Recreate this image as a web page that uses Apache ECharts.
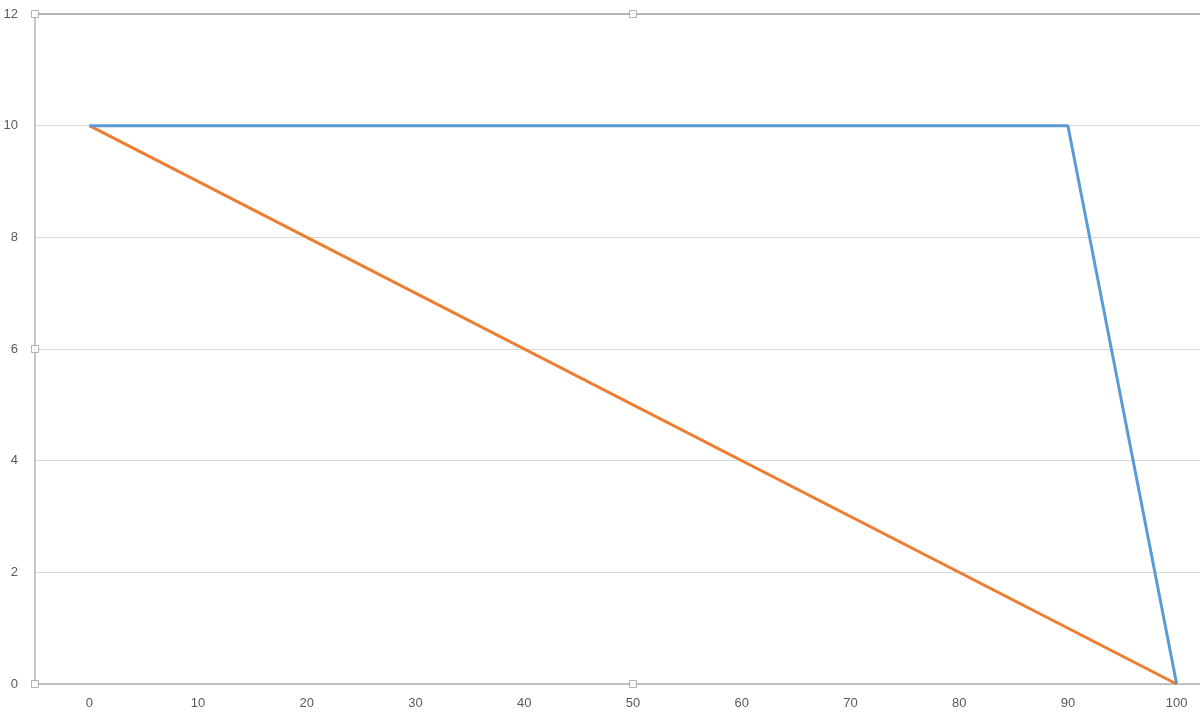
<!DOCTYPE html>
<html>
<head>
<meta charset="utf-8">
<script src="https://cdn.jsdelivr.net/npm/echarts@6/dist/echarts.min.js"></script>
<style>html,body{margin:0;padding:0;background:#fff;overflow:hidden;width:1200px;height:721px;}#c{width:1260px;height:721px;}</style>
</head>
<body>
<div id="c"></div>
<script>
var seriesBlue = [[0, 10], [90, 10], [100, 0]];
var seriesOrange = [[0, 10], [100, 0]];
var handles = [[-5, 12], [50, 12], [-5, 6], [-5, 0], [50, 0]];
var xMin = -5, xMax = 105, yMin = 0, yMax = 12;

var chart = echarts.init(document.getElementById('c'), null, {renderer: 'canvas', width: 1260, height: 721});
var font = 'Liberation Sans, Arial, sans-serif';
chart.setOption({
  animation: false,
  backgroundColor: '#ffffff',
  grid: {left: 35, top: 14, width: 1196, height: 670, containLabel: false},
  xAxis: [{
    type: 'value', min: xMin, max: xMax, interval: 5,
    axisLine: {show: true, onZero: false, lineStyle: {color: '#B3B3B3', width: 1.5}},
    axisTick: {show: false},
    splitLine: {show: false},
    axisLabel: {color: '#595959', fontSize: 13, fontFamily: font, margin: 13,
      showMinLabel: true, showMaxLabel: true,
      formatter: function (v) { return (v % 10 === 0) ? String(v) : ''; }}
  }, {
    type: 'value', min: xMin, max: xMax, position: 'top',
    axisLine: {show: true, onZero: false, lineStyle: {color: '#A0A0A0', width: 1.5}},
    axisTick: {show: false}, axisLabel: {show: false}, splitLine: {show: false}
  }],
  yAxis: {
    type: 'value', min: yMin, max: yMax, interval: 2,
    axisLine: {show: true, onZero: false, lineStyle: {color: '#B3B3B3', width: 1.5}},
    axisTick: {show: false},
    splitLine: {show: true, lineStyle: {color: '#D9D9D9', width: 1}},
    axisLabel: {color: '#595959', fontSize: 13, fontFamily: font, margin: 17}
  },
  series: [{
    type: 'line', data: seriesOrange, showSymbol: false, symbol: 'none',
    lineStyle: {color: '#ED7D31', width: 3}, z: 3
  }, {
    type: 'line', data: seriesBlue, showSymbol: false, symbol: 'none',
    lineStyle: {color: '#5B9BD5', width: 3}, z: 4
  }, {
    type: 'scatter', data: handles, symbol: 'rect', symbolSize: 7,
    itemStyle: {color: '#ffffff', borderColor: '#A0A0A0', borderWidth: 1}, z: 10,
    silent: true
  }]
});
</script>
</body>
</html>
